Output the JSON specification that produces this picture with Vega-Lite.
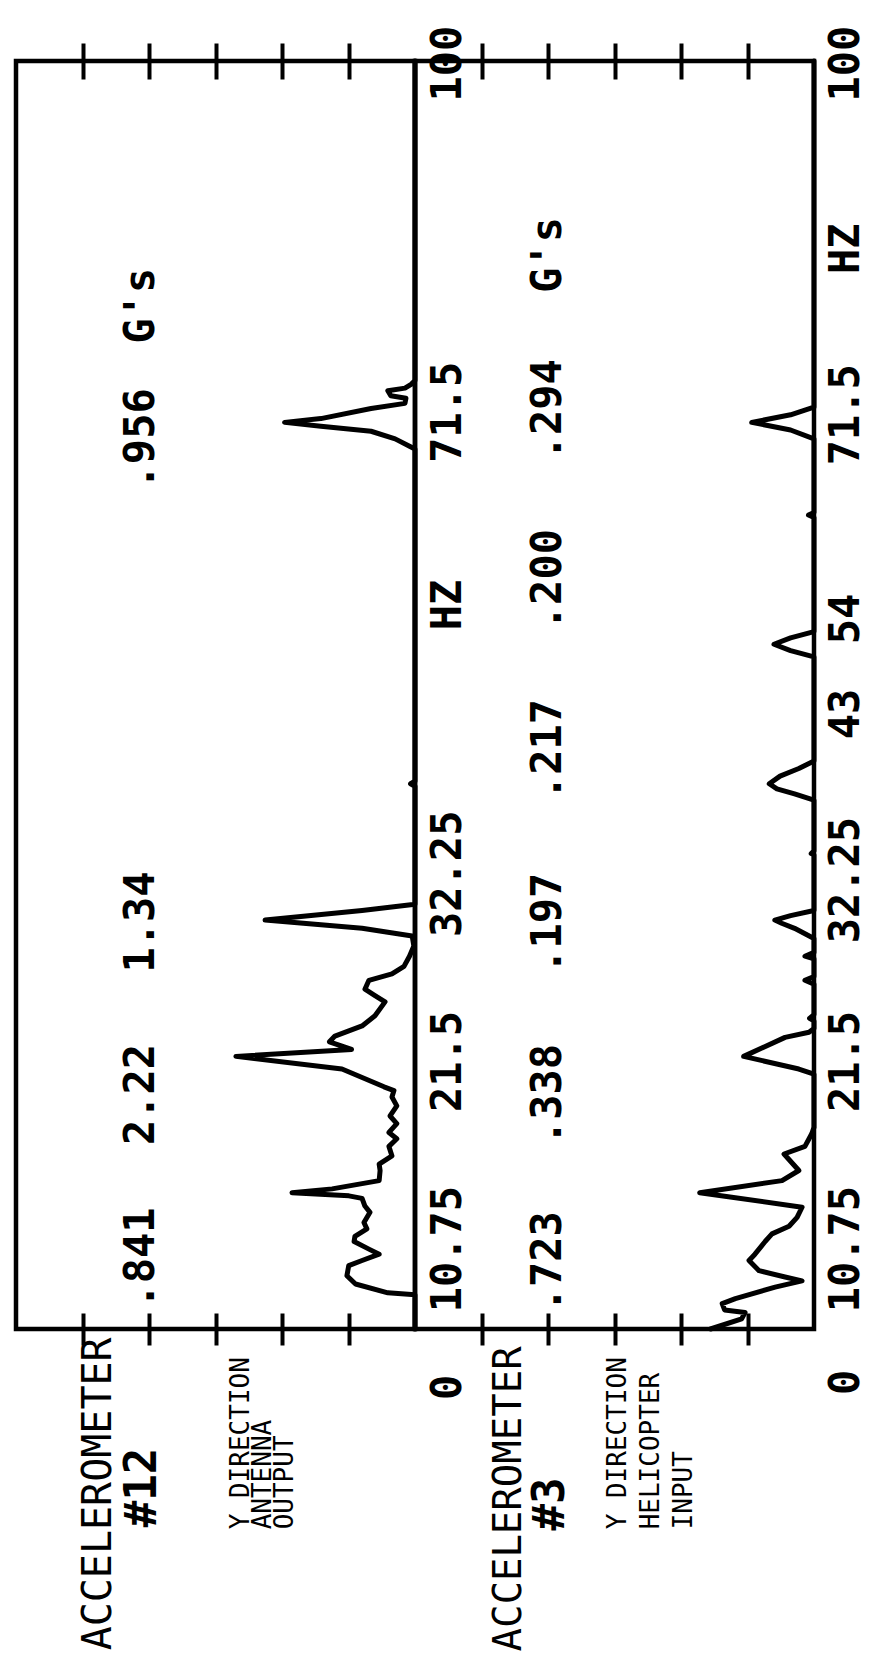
{
  "$schema": "https://vega.github.io/schema/vega-lite/v6.json",
  "background": "white",
  "padding": {"left": 13, "top": 23, "right": 0, "bottom": 5},
  "spacing": 0,
  "bounds": "flush",
  "config": {
    "view": {"stroke": "black", "strokeWidth": 4.5},
    "font": "DejaVu Sans Mono",
    "axis": {"domain": false, "grid": false, "labels": false, "title": null, "tickColor": "black", "tickWidth": 4, "tickCap": "butt"}
  },
  "datasets": {
    "antenna": [
      {"hz": 0, "g": 0.1}, {"hz": 2.7, "g": 0.1}, {"hz": 2.85, "g": 0.16}, {"hz": 3.55, "g": 0.28},
      {"hz": 4.2, "g": 0.325}, {"hz": 5.0, "g": 0.315}, {"hz": 5.4, "g": 0.25}, {"hz": 5.9, "g": 0.186},
      {"hz": 6.3, "g": 0.222}, {"hz": 6.9, "g": 0.287}, {"hz": 7.3, "g": 0.283}, {"hz": 7.9, "g": 0.23},
      {"hz": 8.4, "g": 0.242}, {"hz": 9.2, "g": 0.218}, {"hz": 9.7, "g": 0.238}, {"hz": 10.3, "g": 0.25},
      {"hz": 10.5, "g": 0.314}, {"hz": 10.75, "g": 0.841}, {"hz": 11.05, "g": 0.42}, {"hz": 11.7, "g": 0.186},
      {"hz": 12.5, "g": 0.183}, {"hz": 13.0, "g": 0.186}, {"hz": 13.65, "g": 0.149}, {"hz": 14.4, "g": 0.157},
      {"hz": 15.0, "g": 0.137}, {"hz": 15.5, "g": 0.157}, {"hz": 16.2, "g": 0.137}, {"hz": 16.8, "g": 0.154},
      {"hz": 17.6, "g": 0.137}, {"hz": 18.3, "g": 0.149}, {"hz": 18.8, "g": 0.144}, {"hz": 19.1, "g": 0.171},
      {"hz": 20.5, "g": 0.354}, {"hz": 21.5, "g": 2.22}, {"hz": 22.05, "g": 0.3}, {"hz": 22.65, "g": 0.44},
      {"hz": 23.1, "g": 0.4}, {"hz": 23.9, "g": 0.25}, {"hz": 24.7, "g": 0.2}, {"hz": 25.8, "g": 0.168},
      {"hz": 26.3, "g": 0.2}, {"hz": 26.8, "g": 0.238}, {"hz": 27.5, "g": 0.222}, {"hz": 28.0, "g": 0.149},
      {"hz": 28.6, "g": 0.121}, {"hz": 29.4, "g": 0.11}, {"hz": 30.2, "g": 0.102}, {"hz": 31.0, "g": 0.105},
      {"hz": 31.6, "g": 0.25}, {"hz": 32.25, "g": 1.34}, {"hz": 33.0, "g": 0.25}, {"hz": 33.5, "g": 0.1},
      {"hz": 42.8, "g": 0.1}, {"hz": 43.0, "g": 0.108}, {"hz": 43.2, "g": 0.1},
      {"hz": 69.4, "g": 0.1}, {"hz": 69.6, "g": 0.109}, {"hz": 70.2, "g": 0.141}, {"hz": 70.8, "g": 0.214},
      {"hz": 71.2, "g": 0.51}, {"hz": 71.5, "g": 0.956}, {"hz": 71.8, "g": 0.51}, {"hz": 72.6, "g": 0.214},
      {"hz": 73.0, "g": 0.119}, {"hz": 73.4, "g": 0.117}, {"hz": 73.6, "g": 0.152}, {"hz": 74.0, "g": 0.16},
      {"hz": 74.2, "g": 0.119}, {"hz": 74.5, "g": 0.107}, {"hz": 74.8, "g": 0.1}, {"hz": 100, "g": 0.1}
    ],
    "heli": [
      {"hz": 0, "g": 0.6}, {"hz": 0.8, "g": 0.35}, {"hz": 1.3, "g": 0.33}, {"hz": 1.5, "g": 0.47},
      {"hz": 2.0, "g": 0.49}, {"hz": 2.4, "g": 0.39}, {"hz": 3.3, "g": 0.196}, {"hz": 3.8, "g": 0.123},
      {"hz": 4.1, "g": 0.165}, {"hz": 4.6, "g": 0.259}, {"hz": 5.4, "g": 0.308}, {"hz": 5.9, "g": 0.278},
      {"hz": 6.9, "g": 0.233}, {"hz": 7.5, "g": 0.207}, {"hz": 8.1, "g": 0.154}, {"hz": 8.8, "g": 0.134},
      {"hz": 9.6, "g": 0.123}, {"hz": 10.75, "g": 0.723}, {"hz": 11.7, "g": 0.174}, {"hz": 12.5, "g": 0.13},
      {"hz": 13.8, "g": 0.168}, {"hz": 14.4, "g": 0.117}, {"hz": 15.4, "g": 0.104}, {"hz": 15.9, "g": 0.1},
      {"hz": 20.1, "g": 0.1}, {"hz": 20.5, "g": 0.13}, {"hz": 21.5, "g": 0.338}, {"hz": 23.0, "g": 0.165},
      {"hz": 23.4, "g": 0.109}, {"hz": 23.7, "g": 0.1}, {"hz": 24.3, "g": 0.1}, {"hz": 24.5, "g": 0.108},
      {"hz": 24.8, "g": 0.1}, {"hz": 27.2, "g": 0.1}, {"hz": 27.5, "g": 0.117}, {"hz": 27.8, "g": 0.1},
      {"hz": 29.2, "g": 0.1}, {"hz": 29.4, "g": 0.117}, {"hz": 29.7, "g": 0.1}, {"hz": 30.8, "g": 0.1},
      {"hz": 31.6, "g": 0.14}, {"hz": 32.0, "g": 0.175}, {"hz": 32.25, "g": 0.197}, {"hz": 32.6, "g": 0.15},
      {"hz": 33.0, "g": 0.1}, {"hz": 37.4, "g": 0.1}, {"hz": 37.5, "g": 0.105}, {"hz": 37.7, "g": 0.1},
      {"hz": 41.7, "g": 0.1}, {"hz": 42.2, "g": 0.14}, {"hz": 42.6, "g": 0.19}, {"hz": 43.0, "g": 0.217},
      {"hz": 43.6, "g": 0.18}, {"hz": 44.2, "g": 0.13}, {"hz": 44.8, "g": 0.1}, {"hz": 53.0, "g": 0.1},
      {"hz": 53.5, "g": 0.15}, {"hz": 54.0, "g": 0.2}, {"hz": 54.5, "g": 0.15}, {"hz": 55.0, "g": 0.1},
      {"hz": 64.0, "g": 0.1}, {"hz": 64.2, "g": 0.11}, {"hz": 64.4, "g": 0.1}, {"hz": 70.2, "g": 0.1},
      {"hz": 70.9, "g": 0.15}, {"hz": 71.5, "g": 0.294}, {"hz": 72.1, "g": 0.15}, {"hz": 72.7, "g": 0.1},
      {"hz": 100, "g": 0.1}
    ],
    "notes": [
      {"sensor": "12", "row": "G", "text": ".841", "hz": 5.6},
      {"sensor": "12", "row": "G", "text": "2.22", "hz": 18.5},
      {"sensor": "12", "row": "G", "text": "1.34", "hz": 32.1},
      {"sensor": "12", "row": "G", "text": ".956", "hz": 70.2},
      {"sensor": "12", "row": "G", "text": "G's", "hz": 80.7},
      {"sensor": "12", "row": "HZ", "text": "0", "hz": -4.6},
      {"sensor": "12", "row": "HZ", "text": "10.75", "hz": 6.3},
      {"sensor": "12", "row": "HZ", "text": "21.5", "hz": 21.1},
      {"sensor": "12", "row": "HZ", "text": "32.25", "hz": 35.9},
      {"sensor": "12", "row": "HZ", "text": "HZ", "hz": 57.1},
      {"sensor": "12", "row": "HZ", "text": "71.5", "hz": 72.3},
      {"sensor": "12", "row": "HZ", "text": "100", "hz": 99.8},
      {"sensor": "3", "row": "G", "text": ".723", "hz": 5.3},
      {"sensor": "3", "row": "G", "text": ".338", "hz": 18.5},
      {"sensor": "3", "row": "G", "text": ".197", "hz": 32.0},
      {"sensor": "3", "row": "G", "text": ".217", "hz": 45.7},
      {"sensor": "3", "row": "G", "text": ".200", "hz": 59.1},
      {"sensor": "3", "row": "G", "text": ".294", "hz": 72.5},
      {"sensor": "3", "row": "G", "text": "G's", "hz": 84.7},
      {"sensor": "3", "row": "HZ", "text": "0", "hz": -4.2},
      {"sensor": "3", "row": "HZ", "text": "10.75", "hz": 6.3},
      {"sensor": "3", "row": "HZ", "text": "21.5", "hz": 21.1},
      {"sensor": "3", "row": "HZ", "text": "32.25", "hz": 35.4},
      {"sensor": "3", "row": "HZ", "text": "43", "hz": 48.5},
      {"sensor": "3", "row": "HZ", "text": "54", "hz": 56.0},
      {"sensor": "3", "row": "HZ", "text": "71.5", "hz": 72.1},
      {"sensor": "3", "row": "HZ", "text": "HZ", "hz": 85.2},
      {"sensor": "3", "row": "HZ", "text": "100", "hz": 99.8}
    ]
  },
  "hconcat": [
    {
      "width": 399,
      "height": 1268,
      "resolve": {"axis": {"x": "independent"}},
      "layer": [
        {
          "data": {"name": "antenna"},
          "mark": {"type": "line", "color": "black", "strokeWidth": 5, "strokeJoin": "round", "strokeCap": "round"},
          "encoding": {
            "x": {"field": "g", "type": "quantitative",
                  "scale": {"type": "log", "domain": [0.1, 100], "reverse": true, "nice": false},
                  "axis": {"orient": "bottom", "values": [0.3162, 1, 3.162, 10, 31.62], "tickSize": 32, "offset": -16}},
            "y": {"field": "hz", "type": "quantitative",
                  "scale": {"domain": [0, 100], "nice": false},
                  "axis": {"orient": "left", "values": [10, 20, 30, 40, 50, 60, 70, 80, 90], "tickSize": 26, "offset": -13}},
            "order": {"field": "hz", "type": "quantitative"}
          }
        },
        {
          "data": {"name": "notes"},
          "transform": [{"filter": "datum.sensor === '12' && datum.row === 'G'"}],
          "mark": {"type": "text", "angle": 270, "fontSize": 42, "fontWeight": "bold", "align": "center", "baseline": "middle"},
          "encoding": {
            "x": {"datum": 11.5, "type": "quantitative",
                  "scale": {"type": "log", "domain": [0.1, 100], "reverse": true, "nice": false},
                  "axis": {"orient": "top", "values": [0.3162, 1, 3.162, 10, 31.62], "tickSize": 36, "offset": -18}},
            "y": {"field": "hz", "type": "quantitative", "axis": null},
            "text": {"field": "text"}
          }
        },
        {
          "data": {"name": "notes"},
          "transform": [{"filter": "datum.sensor === '12' && datum.row === 'HZ'"}],
          "mark": {"type": "text", "angle": 270, "fontSize": 42, "fontWeight": "bold", "align": "center", "baseline": "middle"},
          "encoding": {
            "x": {"datum": 0.056, "type": "quantitative", "axis": null},
            "y": {"field": "hz", "type": "quantitative", "axis": null},
            "text": {"field": "text"}
          }
        },
        {
          "data": {"values": [{}]},
          "mark": {"type": "text", "angle": 270, "fontSize": 40, "align": "center", "baseline": "middle", "text": "ACCELEROMETER"},
          "encoding": {
            "x": {"datum": 23.8, "type": "quantitative", "axis": null},
            "y": {"datum": -13.0, "type": "quantitative", "axis": null}
          }
        },
        {
          "data": {"values": [{}]},
          "mark": {"type": "text", "angle": 270, "fontSize": 44, "fontWeight": "bold", "align": "center", "baseline": "middle", "text": "#12"},
          "encoding": {
            "x": {"datum": 11, "type": "quantitative", "axis": null},
            "y": {"datum": -12.5, "type": "quantitative", "axis": null}
          }
        },
        {
          "data": {"values": [{}]},
          "mark": {"type": "text", "angle": 270, "fontSize": 26, "align": "left", "baseline": "top", "lineHeight": 22,
                   "text": ["Y DIRECTION", "ANTENNA", "OUTPUT"]},
          "encoding": {
            "x": {"datum": 2.55, "type": "quantitative", "axis": null},
            "y": {"datum": -15.8, "type": "quantitative", "axis": null}
          }
        }
      ]
    },
    {
      "width": 399,
      "height": 1268,
      "resolve": {"axis": {"x": "independent"}},
      "layer": [
        {
          "data": {"name": "heli"},
          "mark": {"type": "line", "color": "black", "strokeWidth": 5, "strokeJoin": "round", "strokeCap": "round"},
          "encoding": {
            "x": {"field": "g", "type": "quantitative",
                  "scale": {"type": "log", "domain": [0.1, 100], "reverse": true, "nice": false},
                  "axis": {"orient": "bottom", "values": [0.3162, 1, 3.162, 10, 31.62], "tickSize": 32, "offset": -16}},
            "y": {"field": "hz", "type": "quantitative",
                  "scale": {"domain": [0, 100], "nice": false},
                  "axis": {"orient": "right", "values": [10, 20, 30, 40, 50, 60, 70, 80, 90], "tickSize": 26, "offset": -13}},
            "order": {"field": "hz", "type": "quantitative"}
          }
        },
        {
          "data": {"name": "notes"},
          "transform": [{"filter": "datum.sensor === '3' && datum.row === 'G'"}],
          "mark": {"type": "text", "angle": 270, "fontSize": 42, "fontWeight": "bold", "align": "center", "baseline": "middle"},
          "encoding": {
            "x": {"datum": 10, "type": "quantitative",
                  "scale": {"type": "log", "domain": [0.1, 100], "reverse": true, "nice": false},
                  "axis": {"orient": "top", "values": [0.3162, 1, 3.162, 10, 31.62], "tickSize": 36, "offset": -18}},
            "y": {"field": "hz", "type": "quantitative", "axis": null},
            "text": {"field": "text"}
          }
        },
        {
          "data": {"name": "notes"},
          "transform": [{"filter": "datum.sensor === '3' && datum.row === 'HZ'"}],
          "mark": {"type": "text", "angle": 270, "fontSize": 42, "fontWeight": "bold", "align": "center", "baseline": "middle"},
          "encoding": {
            "x": {"datum": 0.057, "type": "quantitative", "axis": null},
            "y": {"field": "hz", "type": "quantitative", "axis": null},
            "text": {"field": "text"}
          }
        },
        {
          "data": {"values": [{}]},
          "mark": {"type": "text", "angle": 270, "fontSize": 39, "align": "center", "baseline": "middle", "text": "ACCELEROMETER"},
          "encoding": {
            "x": {"datum": 19.6, "type": "quantitative", "axis": null},
            "y": {"datum": -13.4, "type": "quantitative", "axis": null}
          }
        },
        {
          "data": {"values": [{}]},
          "mark": {"type": "text", "angle": 270, "fontSize": 44, "fontWeight": "bold", "align": "center", "baseline": "middle", "text": "#3"},
          "encoding": {
            "x": {"datum": 9.5, "type": "quantitative", "axis": null},
            "y": {"datum": -13.8, "type": "quantitative", "axis": null}
          }
        },
        {
          "data": {"values": [{}]},
          "mark": {"type": "text", "angle": 270, "fontSize": 26, "align": "left", "baseline": "top", "lineHeight": 33,
                   "text": ["Y DIRECTION", "HELICOPTER", "INPUT"]},
          "encoding": {
            "x": {"datum": 3.73, "type": "quantitative", "axis": null},
            "y": {"datum": -15.8, "type": "quantitative", "axis": null}
          }
        }
      ]
    }
  ]
}
